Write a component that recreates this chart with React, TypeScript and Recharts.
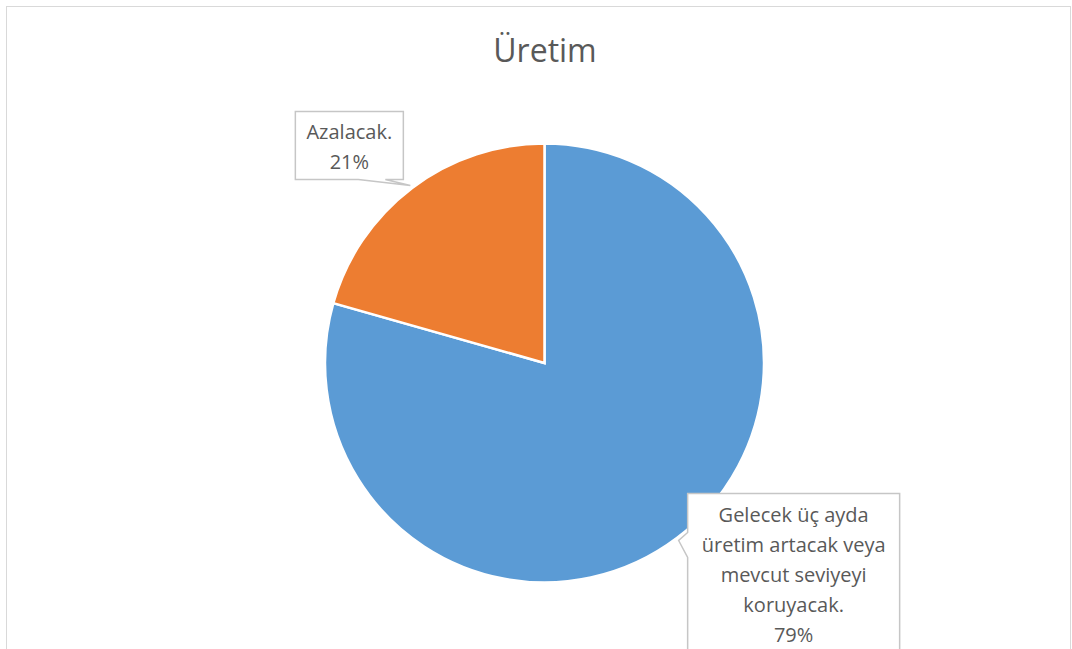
import React from "react";
import { PieChart, Pie, Cell } from "recharts";

const title = "Üretim";
const categories = [
  "Gelecek üç ayda üretim artacak veya mevcut seviyeyi koruyacak.",
  "Azalacak.",
];
const shares = [79.4, 20.6];
const labelLines = [
  ["Gelecek üç ayda", "üretim artacak veya", "mevcut seviyeyi", "koruyacak."],
  ["Azalacak."],
];
const colors = ["#5B9BD5", "#ED7D31"];

const data = categories.map((name, i) => ({ name, value: shares[i] }));

const RADIAN = Math.PI / 180;
const TEXT = "#595959";
const FONT = "'Open Sans', 'Noto Sans', sans-serif";

// label box layout relative to the callout tip
const boxLayout = [
  { dx: 9, dy: -47, w: 212, h: 180, side: "left", b1: -8, b2: 17 },
  { dx: -115, dy: -74, w: 108, h: 68, side: "bottom", b1: -52, b2: -25 },
];

const renderLabel = (props: any) => {
  const { cx, cy, midAngle, outerRadius, percent, index } = props;
  const tx = cx + (outerRadius + 3) * Math.cos(-midAngle * RADIAN);
  const ty = cy + (outerRadius + 3) * Math.sin(-midAngle * RADIAN);
  const L = boxLayout[index];
  const left = tx + L.dx;
  const top = ty + L.dy;
  const right = left + L.w;
  const bottom = top + L.h;
  let d = "";
  if (L.side === "bottom") {
    d = `M${left},${top} H${right} V${bottom} H${tx + L.b2} L${tx},${ty} L${tx + L.b1},${bottom} H${left} Z`;
  } else {
    d = `M${left},${top} H${right} V${bottom} H${left} V${ty + L.b2} L${tx},${ty} L${left},${ty + L.b1} Z`;
  }
  const lines = [...labelLines[index], `${Math.round(percent * 100)}%`];
  const mx = (left + right) / 2;
  return (
    <g key={`lbl-${index}`}>
      <path d={d} fill="#ffffff" stroke="#c6c6c6" strokeWidth={1.5} />
      {lines.map((t, i) => (
        <text
          key={i}
          x={mx}
          y={top + 28 + i * 30}
          textAnchor="middle"
          fill={TEXT}
          fontSize={20}
          fontFamily={FONT}
        >
          {t}
        </text>
      ))}
    </g>
  );
};

export default function App() {
  return (
    <div
      style={{
        position: "absolute",
        left: 0,
        top: 0,
        width: 1072,
        height: 649,
        overflow: "hidden",
        background: "#ffffff",
      }}
    >
      <div
        style={{
          position: "absolute",
          left: 6,
          top: 6,
          width: 1063,
          height: 700,
          border: "1px solid #d9d9d9",
        }}
      />
      <div
        style={{
          position: "absolute",
          left: 0,
          top: 26,
          width: 1090,
          textAlign: "center",
          fontFamily: FONT,
          fontSize: 32,
          color: TEXT,
          lineHeight: "48px",
        }}
      >
        {title}
      </div>
      <div style={{ position: "absolute", left: 0, top: 0 }}>
        <PieChart width={1072} height={649} margin={{ top: 0, right: 0, bottom: 0, left: 0 }}>
          <Pie
            data={data}
            dataKey="value"
            nameKey="name"
            cx={544.5}
            cy={363}
            outerRadius={219.5}
            startAngle={90}
            endAngle={-270}
            stroke="#ffffff"
            strokeWidth={2.5}
            label={renderLabel}
            labelLine={false}
            isAnimationActive={false}
          >
            {data.map((d, i) => (
              <Cell key={d.name} fill={colors[i]} />
            ))}
          </Pie>
        </PieChart>
      </div>
    </div>
  );
}
